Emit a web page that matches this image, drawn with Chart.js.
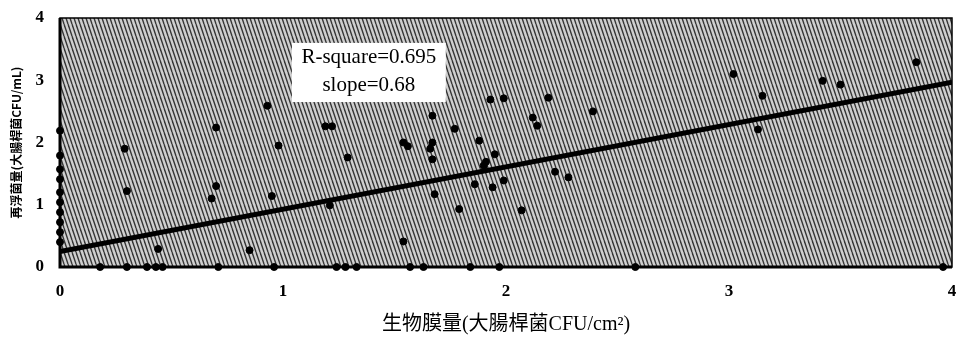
<!DOCTYPE html>
<html>
<head>
<meta charset="utf-8">
<script src="https://cdn.jsdelivr.net/npm/chart.js@4"></script>
<style>
  html, body { margin: 0; padding: 0; background: #fff; }
  #wrap { width: 957px; height: 341px; position: relative; }
</style>
</head>
<body>
<div id="wrap"><canvas id="chart"></canvas></div>
<script>
// ---- data ----
const xTicks = [0, 1, 2, 3, 4];
const yTicks = [0, 1, 2, 3, 4];

// biofilm (x) vs resuspended (y), log CFU
const biofilmX = [
  0.29, 0.30, 0.70, 0.70, 0.68, 0.44, 0.93, 0.98, 0.95, 0.85,
  1.19, 1.22, 1.29, 1.54, 1.56, 1.67, 1.67, 1.66, 1.67, 1.77,
  1.93, 1.99, 2.19, 2.12, 2.14, 2.39, 1.88, 1.95, 1.91, 1.90,
  1.68, 1.86, 1.94, 1.99, 1.79, 2.07, 2.22, 2.28, 1.21, 1.54,
  3.02, 3.15, 3.13, 3.42, 3.50, 3.84,
  0.18, 0.30, 0.39, 0.43, 0.46, 0.71, 0.96, 1.24, 1.28, 1.33,
  1.57, 1.63, 1.84, 1.97, 2.58, 3.96,
  0, 0, 0, 0, 0, 0, 0, 0, 0, 0
];
const resuspY = [
  1.90, 1.22, 2.24, 1.30, 1.10, 0.29, 2.59, 1.95, 1.14, 0.27,
  2.26, 2.26, 1.76, 2.00, 1.94, 2.43, 2.00, 1.90, 1.73, 2.22,
  2.69, 2.71, 2.72, 2.40, 2.27, 2.50, 2.03, 1.81, 1.69, 1.63,
  1.17, 1.33, 1.28, 1.39, 0.93, 0.91, 1.53, 1.44, 0.99, 0.41,
  3.10, 2.75, 2.21, 2.99, 2.93, 3.29,
  0, 0, 0, 0, 0, 0, 0, 0, 0, 0,
  0, 0, 0, 0, 0, 0,
  2.19, 1.79, 1.57, 1.41, 1.20, 1.04, 0.88, 0.72, 0.56, 0.40
];

// regression line end points
const fitX = [0, 4];
const fitY = [0.25, 2.97];

const statLines = ['R-square=0.695', 'slope=0.68'];

// ---- helpers ----
function makePattern(ctx) {
  const c = document.createElement('canvas');
  c.width = 4; c.height = 12;
  const p = c.getContext('2d');
  p.fillStyle = '#cfcfcf';
  p.fillRect(0, 0, 4, 12);
  p.strokeStyle = '#353535';
  p.lineWidth = 1.35;
  for (let dx = -4; dx <= 4; dx += 4) {
    p.beginPath();
    p.moveTo(dx, 0);
    p.lineTo(dx + 4, 12);
    p.stroke();
  }
  return ctx.createPattern(c, 'repeat');
}

const plotBackground = {
  id: 'plotBackground',
  beforeDatasetsDraw(chart) {
    const { ctx, chartArea: a } = chart;
    ctx.save();
    ctx.fillStyle = makePattern(ctx);
    ctx.fillRect(a.left, a.top, a.right - a.left, a.bottom - a.top);
    ctx.restore();
  },
  afterDatasetsDraw(chart) {
    const { ctx, chartArea: a, scales } = chart;
    ctx.save();
    // frame
    ctx.strokeStyle = '#000';
    ctx.lineWidth = 1.5;
    ctx.strokeRect(a.left, a.top, a.right - a.left, a.bottom - a.top);
    ctx.lineWidth = 3;
    ctx.beginPath();
    ctx.moveTo(a.left, a.top);
    ctx.lineTo(a.left, a.bottom);
    ctx.lineTo(a.right, a.bottom);
    ctx.stroke();

    // stats box
    const x0 = scales.x.getPixelForValue(1.04);
    const x1 = scales.x.getPixelForValue(1.73);
    const y0 = scales.y.getPixelForValue(3.6);
    const y1 = scales.y.getPixelForValue(2.65);
    ctx.fillStyle = '#fff';
    ctx.fillRect(x0, y0, x1 - x0, y1 - y0);
    ctx.fillStyle = '#000';
    ctx.font = '21px "Liberation Serif", serif';
    ctx.textAlign = 'center';
    ctx.textBaseline = 'middle';
    const cx = (x0 + x1) / 2;
    ctx.fillText(statLines[0], cx, y0 + 15);
    ctx.fillText(statLines[1], cx, y0 + 43);
    ctx.restore();
  }
};

const ctx = document.getElementById('chart');
new Chart(ctx, {
  data: {
    datasets: [
      {
        type: 'scatter',
        data: biofilmX.map((x, i) => ({ x: x, y: resuspY[i] })),
        backgroundColor: '#000',
        borderColor: '#000',
        pointRadius: 3.5,
        clip: false,
        order: 2
      },
      {
        type: 'line',
        data: fitX.map((x, i) => ({ x: x, y: fitY[i] })),
        borderColor: '#000',
        borderWidth: 5,
        pointRadius: 0,
        fill: false,
        order: 1
      }
    ]
  },
  options: {
    responsive: true,
    maintainAspectRatio: false,
    animation: false,
    layout: { padding: { top: 18, right: 3, left: 0, bottom: 0 } },
    plugins: {
      legend: { display: false },
      tooltip: { enabled: false }
    },
    scales: {
      x: {
        type: 'linear',
        min: 0, max: 4,
        afterBuildTicks(axis) { axis.ticks = xTicks.map(v => ({ value: v })); },
        afterFit(axis) {
          axis.height = 74;
          axis.paddingLeft = 0;
          axis.paddingRight = 0;
        },
        grid: { display: false, drawTicks: false },
        border: { display: false },
        ticks: {
          color: '#000',
          padding: 14,
          font: { family: '"Liberation Serif", serif', size: 17, weight: 'bold' }
        },
        title: {
          display: true,
          text: '生物膜量(大腸桿菌CFU/cm²)',
          color: '#000',
          padding: { top: 6, bottom: 4 },
          font: { family: '"Liberation Serif", "Noto Sans CJK TC", serif', size: 20 }
        }
      },
      y: {
        type: 'linear',
        min: 0, max: 4,
        afterBuildTicks(axis) { axis.ticks = yTicks.map(v => ({ value: v })); },
        afterFit(axis) {
          axis.width = 60;
          axis.paddingTop = 0;
          axis.paddingBottom = 0;
        },
        grid: { display: false, drawTicks: false },
        border: { display: false },
        ticks: {
          color: '#000',
          padding: 16,
          font: { family: '"Liberation Serif", serif', size: 17, weight: 'bold' }
        },
        title: {
          display: true,
          text: '再浮菌量(大腸桿菌CFU/mL)',
          color: '#000',
          padding: { top: 9, bottom: 4 },
          font: { family: '"Noto Sans CJK TC", sans-serif', size: 12, weight: 'bold' }
        }
      }
    }
  },
  plugins: [plotBackground]
});
</script>
</body>
</html>
